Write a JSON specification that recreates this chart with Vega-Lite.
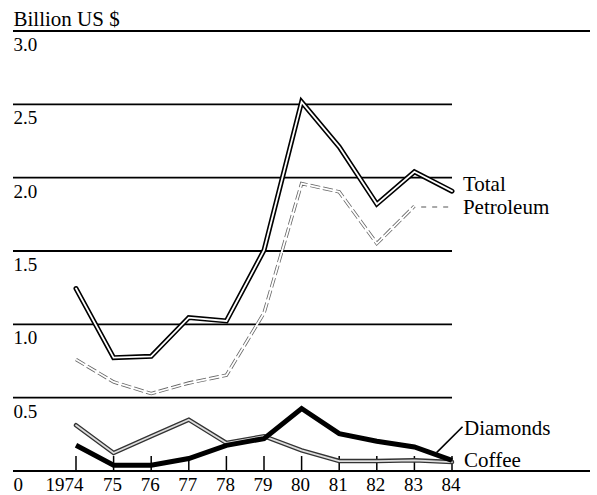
{
  "$schema": "https://vega.github.io/schema/vega-lite/v6.json",
  "width": 577,
  "height": 440,
  "autosize": {"type": "none"},
  "padding": {"left": 13, "top": 31, "right": 7, "bottom": 24},
  "background": "white",
  "config": {
    "view": {"stroke": null},
    "font": "'Liberation Serif', 'Times New Roman', Times, serif",
    "axis": {"labelFont": "'Liberation Serif', 'Times New Roman', Times, serif", "labelFontSize": 19, "labelColor": "black"}
  },
  "datasets": {
    "series": [
      {"year": 1974, "series": "Total", "value": 1.244},
      {"year": 1975, "series": "Total", "value": 0.773},
      {"year": 1976, "series": "Total", "value": 0.782},
      {"year": 1977, "series": "Total", "value": 1.046},
      {"year": 1978, "series": "Total", "value": 1.023},
      {"year": 1979, "series": "Total", "value": 1.505},
      {"year": 1980, "series": "Total", "value": 2.517},
      {"year": 1981, "series": "Total", "value": 2.21},
      {"year": 1982, "series": "Total", "value": 1.82},
      {"year": 1983, "series": "Total", "value": 2.04},
      {"year": 1984, "series": "Total", "value": 1.908},
      {"year": 1974, "series": "Petroleum", "value": 0.76},
      {"year": 1975, "series": "Petroleum", "value": 0.607},
      {"year": 1976, "series": "Petroleum", "value": 0.528},
      {"year": 1977, "series": "Petroleum", "value": 0.6},
      {"year": 1978, "series": "Petroleum", "value": 0.653},
      {"year": 1979, "series": "Petroleum", "value": 1.077},
      {"year": 1980, "series": "Petroleum", "value": 1.96},
      {"year": 1981, "series": "Petroleum", "value": 1.903},
      {"year": 1982, "series": "Petroleum", "value": 1.551},
      {"year": 1983, "series": "Petroleum", "value": 1.806},
      {"year": 1974, "series": "Diamonds", "value": 0.175},
      {"year": 1975, "series": "Diamonds", "value": 0.039},
      {"year": 1976, "series": "Diamonds", "value": 0.039},
      {"year": 1977, "series": "Diamonds", "value": 0.085},
      {"year": 1978, "series": "Diamonds", "value": 0.175},
      {"year": 1979, "series": "Diamonds", "value": 0.221},
      {"year": 1980, "series": "Diamonds", "value": 0.426},
      {"year": 1981, "series": "Diamonds", "value": 0.255},
      {"year": 1982, "series": "Diamonds", "value": 0.203},
      {"year": 1983, "series": "Diamonds", "value": 0.164},
      {"year": 1984, "series": "Diamonds", "value": 0.073},
      {"year": 1974, "series": "Coffee", "value": 0.312},
      {"year": 1975, "series": "Coffee", "value": 0.123},
      {"year": 1976, "series": "Coffee", "value": 0.237},
      {"year": 1977, "series": "Coffee", "value": 0.35},
      {"year": 1978, "series": "Coffee", "value": 0.191},
      {"year": 1979, "series": "Coffee", "value": 0.237},
      {"year": 1980, "series": "Coffee", "value": 0.141},
      {"year": 1981, "series": "Coffee", "value": 0.068},
      {"year": 1982, "series": "Coffee", "value": 0.068},
      {"year": 1983, "series": "Coffee", "value": 0.073},
      {"year": 1984, "series": "Coffee", "value": 0.061}
    ],
    "leaders": [
      {"leader": "Diamonds", "year": 1983.59, "value": 0.125},
      {"leader": "Diamonds", "year": 1984.28, "value": 0.302},
      {"leader": "Petroleum", "year": 1983.18, "value": 1.8},
      {"leader": "Petroleum", "year": 1984.0, "value": 1.8}
    ],
    "labels": [
      {"label": "Total", "year": 1984.29, "value": 1.911},
      {"label": "Petroleum", "year": 1984.29, "value": 1.752},
      {"label": "Diamonds", "year": 1984.32, "value": 0.245},
      {"label": "Coffee", "year": 1984.32, "value": 0.025}
    ],
    "grid": [{"g": 0.5}, {"g": 1.0}, {"g": 1.5}, {"g": 2.0}, {"g": 2.5}],
    "frame": [{"g": 0}, {"g": 3}],
    "years": [
      {"year": 1974}, {"year": 1975}, {"year": 1976}, {"year": 1977}, {"year": 1978},
      {"year": 1979}, {"year": 1980}, {"year": 1981}, {"year": 1982}, {"year": 1983}, {"year": 1984}
    ]
  },
  "layer": [
    {
      "data": {"name": "grid"},
      "mark": {"type": "rule", "color": "black", "strokeWidth": 1.8},
      "encoding": {
        "y": {
          "field": "g", "type": "quantitative",
          "scale": {"domain": [0, 3], "nice": false, "zero": false},
          "axis": {
            "values": [0, 0.5, 1, 1.5, 2, 2.5, 3],
            "title": "Billion US $",
            "titleAngle": 0, "titleAlign": "left", "titleBaseline": "alphabetic",
            "titleX": 0, "titleY": -6,
            "titleFont": "'Liberation Serif', 'Times New Roman', Times, serif", "titleFontSize": 21, "titleFontWeight": "normal", "titleColor": "black",
            "domain": false, "ticks": false, "grid": false,
            "labelAlign": "left", "labelPadding": 0, "labelBaseline": "alphabetic",
            "labelOffset": 19.5,
            "labelExpr": "datum.value == 0 ? '0' : format(datum.value, '.1f')"
          }
        },
        "x": {
          "datum": 1972.3245, "type": "quantitative",
          "scale": {"domain": [1972.3245, 1987.67], "nice": false, "zero": false},
          "axis": {
            "values": [1974, 1975, 1976, 1977, 1978, 1979, 1980, 1981, 1982, 1983, 1984],
            "title": null, "domain": false, "ticks": false, "grid": false,
            "labelPadding": 19, "labelBaseline": "alphabetic",
            "labelAlign": "center",
            "labelOffset": {"condition": {"test": "datum.value == 1974", "value": -12}, "value": -1.5},
            "labelExpr": "datum.value == 1974 ? '1974' : slice(toString(datum.value), 2)"
          }
        },
        "x2": {"datum": 1984}
      }
    },
    {
      "data": {"name": "frame"},
      "mark": {"type": "rule", "color": "black", "strokeWidth": 2},
      "encoding": {"y": {"field": "g", "type": "quantitative"}}
    },
    {
      "data": {"name": "years"},
      "mark": {"type": "rule", "color": "black", "strokeWidth": 1.5},
      "encoding": {
        "x": {"field": "year", "type": "quantitative"},
        "y": {"datum": 0},
        "y2": {"datum": 0.102}
      }
    },
    {
      "data": {"name": "series"},
      "transform": [{"filter": "datum.series == 'Petroleum'"}],
      "mark": {"type": "line", "color": "#666", "strokeWidth": 3.4, "strokeDash": [10, 3]},
      "encoding": {
        "x": {"field": "year", "type": "quantitative"},
        "y": {"field": "value", "type": "quantitative"}
      }
    },
    {
      "data": {"name": "series"},
      "transform": [{"filter": "datum.series == 'Petroleum'"}],
      "mark": {"type": "line", "color": "white", "strokeWidth": 1.8},
      "encoding": {
        "x": {"field": "year", "type": "quantitative"},
        "y": {"field": "value", "type": "quantitative"}
      }
    },
    {
      "data": {"name": "series"},
      "transform": [{"filter": "datum.series == 'Total'"}],
      "mark": {"type": "line", "color": "black", "strokeWidth": 5, "strokeCap": "round"},
      "encoding": {
        "x": {"field": "year", "type": "quantitative"},
        "y": {"field": "value", "type": "quantitative"}
      }
    },
    {
      "data": {"name": "series"},
      "transform": [{"filter": "datum.series == 'Total'"}],
      "mark": {"type": "line", "color": "white", "strokeWidth": 1.8, "strokeCap": "round"},
      "encoding": {
        "x": {"field": "year", "type": "quantitative"},
        "y": {"field": "value", "type": "quantitative"}
      }
    },
    {
      "data": {"name": "series"},
      "transform": [{"filter": "datum.series == 'Coffee'"}],
      "mark": {"type": "line", "color": "#333", "strokeWidth": 4.5, "strokeCap": "round"},
      "encoding": {
        "x": {"field": "year", "type": "quantitative"},
        "y": {"field": "value", "type": "quantitative"}
      }
    },
    {
      "data": {"name": "series"},
      "transform": [{"filter": "datum.series == 'Coffee'"}],
      "mark": {"type": "line", "color": "#ddd", "strokeWidth": 1.8, "strokeCap": "round"},
      "encoding": {
        "x": {"field": "year", "type": "quantitative"},
        "y": {"field": "value", "type": "quantitative"}
      }
    },
    {
      "data": {"name": "series"},
      "transform": [{"filter": "datum.series == 'Diamonds'"}],
      "mark": {"type": "line", "color": "black", "strokeWidth": 5},
      "encoding": {
        "x": {"field": "year", "type": "quantitative"},
        "y": {"field": "value", "type": "quantitative"}
      }
    },
    {
      "data": {"name": "leaders"},
      "transform": [{"filter": "datum.leader == 'Diamonds'"}],
      "mark": {"type": "line", "color": "black", "strokeWidth": 1.6},
      "encoding": {
        "x": {"field": "year", "type": "quantitative"},
        "y": {"field": "value", "type": "quantitative"}
      }
    },
    {
      "data": {"name": "leaders"},
      "transform": [{"filter": "datum.leader == 'Petroleum'"}],
      "mark": {"type": "line", "color": "#555", "strokeWidth": 1.2, "strokeDash": [5, 6]},
      "encoding": {
        "x": {"field": "year", "type": "quantitative"},
        "y": {"field": "value", "type": "quantitative"}
      }
    },
    {
      "data": {"name": "labels"},
      "mark": {"type": "text", "align": "left", "baseline": "alphabetic", "font": "'Liberation Serif', 'Times New Roman', Times, serif", "fontSize": 21, "color": "black"},
      "encoding": {
        "x": {"field": "year", "type": "quantitative"},
        "y": {"field": "value", "type": "quantitative"},
        "text": {"field": "label"}
      }
    }
  ]
}
